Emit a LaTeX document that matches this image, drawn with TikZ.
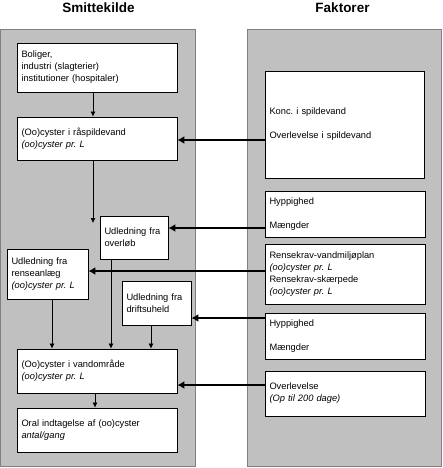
\documentclass[tikz,border=0pt]{standalone}
\usepackage{fontspec}
\setmainfont{Liberation Sans}
\usetikzlibrary{arrows.meta,shadows}
\frenchspacing
\definecolor{panelgray}{RGB}{192,192,192}
\definecolor{panelborder}{RGB}{128,128,128}
\tikzset{
  panel/.style={fill=panelgray, draw=panelborder, line width=1pt},
  box/.style={draw=black, fill=white, line width=0.8pt, inner xsep=4.5pt, inner ysep=0pt,
    align=left, font=\fontsize{9.3}{12}\selectfont\frenchspacing,
    drop shadow={shadow xshift=1pt, shadow yshift=-1pt, fill=black, opacity=1}},
  title/.style={font=\fontsize{13.5}{16}\selectfont\bfseries, anchor=base},
  bigarrow/.style={line width=1.6pt, -{Latex[length=7pt,width=8pt]}},
  smallarrow/.style={line width=0.7pt, -{Latex[length=5pt,width=5pt]}},
}
\begin{document}
\begin{tikzpicture}[x=1pt,y=-1pt]
\useasboundingbox (0,0) rectangle (443,468);
% titles
\node[title] (t1) at (98.5,12.7) {Smittekilde};
\node[title] (t2) at (342.5,12.7) {Faktorer};
% panels
\draw[panel] (0.5,29.5) rectangle (195,466.5);
\draw[panel] (247,29.5) rectangle (441.5,466.5);
% left boxes
\node[box, minimum width=160pt, minimum height=49pt, text width=151pt] (b1) at (97,67.5)
  {Boliger,\\industri (slagterier)\\institutioner (hospitaler)};
\node[box, minimum width=160pt, minimum height=43pt, text width=151pt] (b2) at (97,138.5)
  {(Oo)cyster i råspildevand\\\textit{(oo)cyster pr.\ L}};
\node[box, minimum width=68pt, minimum height=43pt, text width=59pt] (b3) at (134,237.5)
  {Udledning fra\\overløb};
\node[box, minimum width=81pt, minimum height=50pt, text width=72pt] (b4) at (47.5,274)
  {Udledning fra\\renseanlæg\\\textit{(oo)cyster pr.\ L}};
\node[box, minimum width=69pt, minimum height=44pt, text width=60pt] (b5) at (156.5,303)
  {Udledning fra\\driftsuheld};
\node[box, minimum width=160pt, minimum height=44pt, text width=151pt] (b6) at (97,371)
  {(Oo)cyster i vandområde\\\textit{(oo)cyster pr.\ L}};
\node[box, minimum width=160pt, minimum height=44pt, text width=151pt] (b7) at (97,430)
  {Oral indtagelse af (oo)cyster\\\textit{antal/gang}};
% right boxes
\node[box, minimum width=159pt, minimum height=107pt, text width=150pt] (fA) at (344.5,124.5)
  {Konc.\ i spildevand\\[12pt]Overlevelse i spildevand};
\node[box, minimum width=160pt, minimum height=46pt, text width=151pt] (fB) at (345,214)
  {Hyppighed\\[12pt]Mængder};
\node[box, minimum width=160pt, minimum height=60pt, text width=151pt] (fC) at (345,274)
  {Rensekrav-vandmiljøplan\\\textit{(oo)cyster pr.\ L}\\Rensekrav-skærpede\\\textit{(oo)cyster pr.\ L}};
\node[box, minimum width=160pt, minimum height=46pt, text width=151pt] (fD) at (345,336)
  {Hyppighed\\[12pt]Mængder};
\node[box, minimum width=160pt, minimum height=45pt, text width=151pt] (fE) at (345,393.5)
  {Overlevelse\\\textit{(Op til 200 dage)}};
% free end
\coordinate (c2) at (93,223);
% thin arrows
\draw[smallarrow] (b1.south -| 93,0) -- (b2.north -| 93,0);
\draw[smallarrow] (b2.south -| c2) -- (c2);
\draw[smallarrow] (b3.south -| 111,0) -- (b6.north -| 111,0);
\draw[smallarrow] (b4.south -| 52,0) -- (b6.north -| 52,0);
\draw[smallarrow] (b5.south -| 151,0) -- (b6.north -| 151,0);
\draw[smallarrow] (b6.south -| 95,0) -- (b7.north -| 95,0);
% thick arrows
\draw[bigarrow] (fA.west |- 0,140) -- (b2.east |- 0,140);
\draw[bigarrow] (fB.west |- 0,228) -- (b3.east |- 0,228);
\draw[bigarrow] (fC.west |- 0,271) -- (b4.east |- 0,271);
\draw[bigarrow] (fD.west |- 0,318) -- (b5.east |- 0,318);
\draw[bigarrow] (fE.west |- 0,385) -- (b6.east |- 0,385);
\end{tikzpicture}
\end{document}
